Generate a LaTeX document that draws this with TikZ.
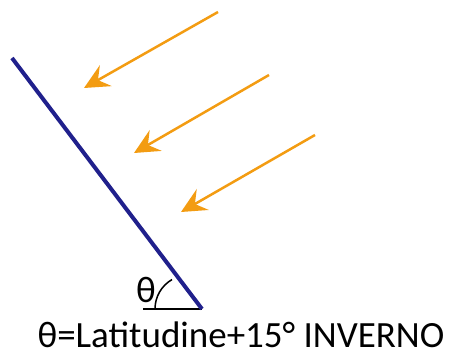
\documentclass[tikz,border=0pt]{standalone}
\usepackage{fontspec}
\setmainfont{Carlito}
\usetikzlibrary{arrows.meta}
\definecolor{sunorange}{RGB}{243,156,18}
\definecolor{panelblue}{RGB}{32,32,140}
\tikzset{
  ray/.style={draw=sunorange, line width=2.5pt, -{Stealth[length=25pt,width=24pt,inset=9pt]}},
  panel/.style={draw=panelblue, line width=4pt},
  baseln/.style={draw=black, line width=1.5pt},
  lbl/.style={inner sep=0pt, font=\fontsize{37}{44}\selectfont}
}
\begin{document}
\begin{tikzpicture}[x=1pt,y=-1pt]
\useasboundingbox (0,0) rectangle (449,363);
\coordinate (ptop) at (12,58);
\coordinate (pbot) at (202,309);
\coordinate (bleft) at (143,309);
\draw[baseln] (bleft) -- (pbot);
\draw[panel] (ptop) -- (pbot);
\draw[baseln] (155,309) arc[start angle=180, end angle=240, radius=34];
\coordinate (s1) at (218,12);  \coordinate (e1) at (84,88);
\coordinate (s2) at (269,75);  \coordinate (e2) at (134,153);
\coordinate (s3) at (315,135); \coordinate (e3) at (181,212);
\draw[ray] (s1) -- (e1);
\draw[ray] (s2) -- (e2);
\draw[ray] (s3) -- (e3);
\node[lbl] (theta) at (146,290) {θ};
\node[lbl] (formula) at (241,335) {θ=Latitudine+15° INVERNO};
\end{tikzpicture}
\end{document}
